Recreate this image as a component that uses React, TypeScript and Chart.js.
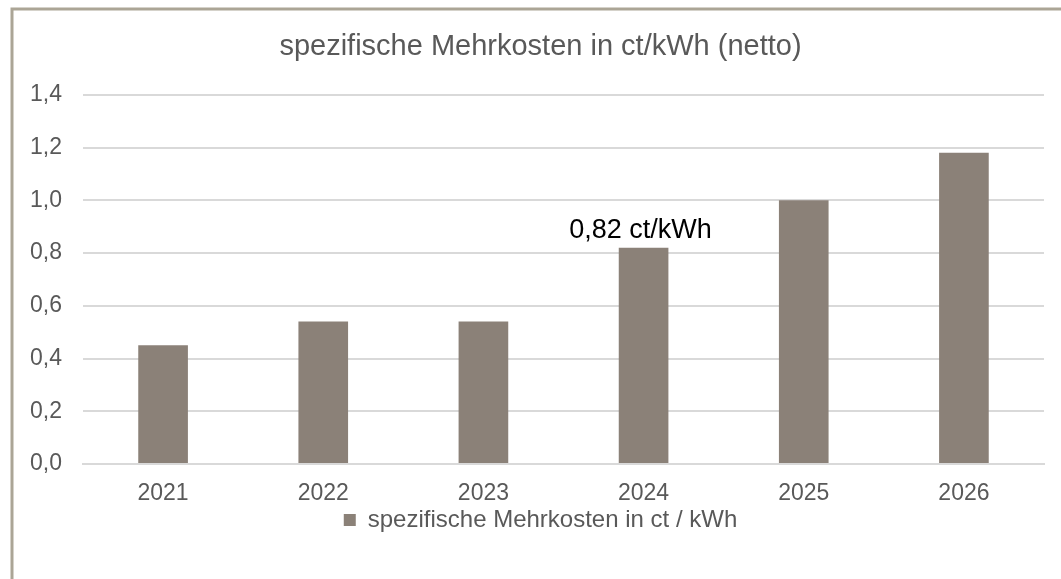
import React, { useEffect, useRef } from "react";
import { Chart, registerables } from "chart.js";

Chart.register(...registerables);

const categories = ["2021", "2022", "2023", "2024", "2025", "2026"];
const values = [0.45, 0.54, 0.54, 0.82, 1.0, 1.18];
const valueLabels = ["", "", "", "0,82 ct/kWh", "", ""];
const seriesName = "spezifische Mehrkosten in ct / kWh";
const chartTitle = "spezifische Mehrkosten in ct/kWh (netto)";

const FONT = "'Liberation Sans', Arial, sans-serif";

const framePlugin = {
  id: "frame",
  beforeDraw(chart: any) {
    const ctx = chart.ctx;
    ctx.save();
    ctx.fillStyle = "#ffffff";
    ctx.fillRect(0, 0, chart.width, chart.height);
    ctx.strokeStyle = "#aba596";
    ctx.lineWidth = 3;
    ctx.beginPath();
    ctx.moveTo(12, chart.height + 5);
    ctx.lineTo(12, 9);
    ctx.lineTo(chart.width + 5, 9);
    ctx.stroke();
    ctx.restore();
  },
};

const valueLabelPlugin = {
  id: "valueLabels",
  afterDatasetsDraw(chart: any) {
    const ctx = chart.ctx;
    const meta = chart.getDatasetMeta(0);
    ctx.save();
    ctx.font = `27px ${FONT}`;
    ctx.fillStyle = "#000000";
    ctx.textAlign = "center";
    ctx.textBaseline = "alphabetic";
    meta.data.forEach((el: any, i: number) => {
      const t = valueLabels[i];
      if (!t) return;
      ctx.fillText(t, el.x - 3, el.y - 10);
    });
    ctx.restore();
  },
};

export default function App() {
  const ref = useRef<HTMLCanvasElement>(null);
  useEffect(() => {
    if (!ref.current) return;
    const chart = new Chart(ref.current, {
      type: "bar",
      data: {
        labels: categories,
        datasets: [
          {
            label: seriesName,
            data: values,
            backgroundColor: "#8b8178",
            borderWidth: 0,
            barPercentage: 0.31,
            categoryPercentage: 1,
          },
        ],
      },
      options: {
        animation: false,
        responsive: false,
        maintainAspectRatio: false,
        layout: { padding: { top: 30, right: 0, bottom: 37, left: 20 } },
        plugins: {
          title: {
            display: true,
            text: chartTitle,
            color: "#595959",
            font: { family: FONT, size: 29, weight: "normal" },
            padding: { top: 0, bottom: 30 },
          },
          legend: {
            position: "bottom",
            labels: {
              color: "#595959",
              font: { family: FONT, size: 24 },
              boxWidth: 12,
              boxHeight: 12,
              padding: 0,
            },
          },
          tooltip: { enabled: false },
        },
        scales: {
          x: {
            afterFit(scale: any) {
              scale.height = 44;
            },
            grid: { display: false, drawTicks: false },
            border: { display: true, color: "#d9d9d9", width: 2 },
            ticks: {
              color: "#595959",
              font: { family: FONT, size: 23 },
              padding: 16,
            },
          },
          y: {
            min: 0,
            max: 1.4,
            afterFit(scale: any) {
              scale.width = 63;
            },
            grid: { color: "#d9d9d9", lineWidth: 2, drawTicks: false },
            border: { display: false },
            ticks: {
              stepSize: 0.2,
              color: "#595959",
              font: { family: FONT, size: 23 },
              padding: 21,
              callback: (v: any) => Number(v).toFixed(1).replace(".", ","),
            },
          },
          yRight: {
            position: "right",
            min: 0,
            max: 1.4,
            afterFit(scale: any) {
              scale.width = 17;
            },
            grid: { display: false, drawTicks: false },
            border: { display: false },
            ticks: { display: false },
          },
        },
      },
      plugins: [framePlugin, valueLabelPlugin],
    });
    return () => chart.destroy();
  }, []);
  return (
    <div style={{ position: "absolute", left: 0, top: 0, width: 1061, height: 579 }}>
      <canvas ref={ref} width={1061} height={579} style={{ display: "block" }} />
    </div>
  );
}
